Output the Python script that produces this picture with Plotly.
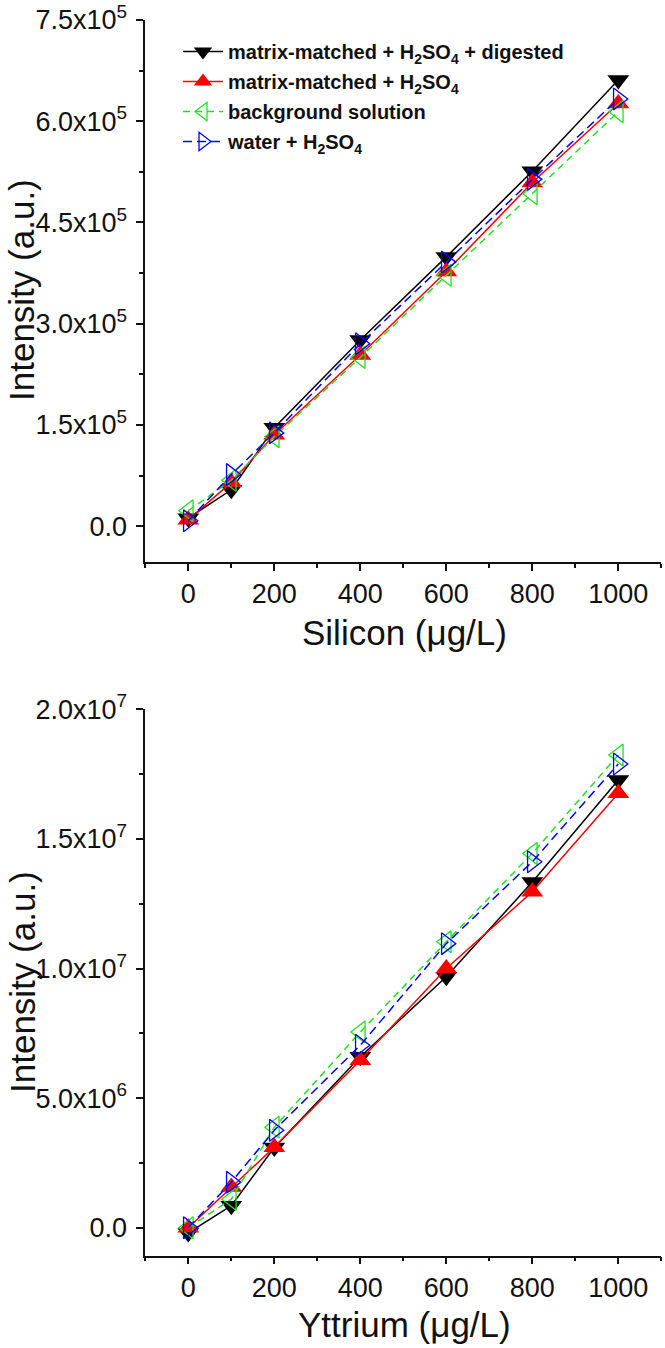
import plotly.graph_objects as go

# ---------------- data ----------------
conc = [0, 100, 200, 400, 600, 800, 1000]

si_digested = [12000, 54000, 146000, 276000, 399000, 526000, 661000]
si_matrix = [9600, 65000, 135600, 253600, 377300, 509300, 626300]
si_background = [23000, 68000, 132700, 250000, 371700, 492400, 614000]
si_water = [8000, 76500, 138300, 270500, 391300, 513900, 633100]

y_digested = [-0.2e6, 0.85e6, 3.1e6, 6.6e6, 9.68e6, 13.34e6, 17.27e6]
y_matrix = [0.0, 1.57e6, 3.11e6, 6.46e6, 10.0e6, 12.96e6, 16.76e6]
y_background = [0.0, 1.1e6, 3.88e6, 7.55e6, 11.03e6, 14.44e6, 18.24e6]
y_water = [0.0, 1.76e6, 3.76e6, 7.04e6, 10.96e6, 14.12e6, 17.89e6]

series_names = [
    "<b>matrix-matched + H<sub>2</sub>SO<sub>4</sub> + digested</b>",
    "<b>matrix-matched + H<sub>2</sub>SO<sub>4</sub></b>",
    "<b>background solution</b>",
    "<b>water + H<sub>2</sub>SO<sub>4</sub></b>",
]

x_ticks = [0, 200, 400, 600, 800, 1000]
x_minor = [-100, 100, 300, 500, 700, 900, 1100]
si_ticks = [0, 1.5e5, 3.0e5, 4.5e5, 6.0e5, 7.5e5]
si_ticktext = ["0.0", "1.5x10<sup>5</sup>", "3.0x10<sup>5</sup>", "4.5x10<sup>5</sup>",
               "6.0x10<sup>5</sup>", "7.5x10<sup>5</sup>"]
si_minor = [0.75e5, 2.25e5, 3.75e5, 5.25e5, 6.75e5]
y_ticks = [0, 5e6, 1e7, 1.5e7, 2e7]
y_ticktext = ["0.0", "5.0x10<sup>6</sup>", "1.0x10<sup>7</sup>", "1.5x10<sup>7</sup>",
              "2.0x10<sup>7</sup>"]
y_minor = [2.5e6, 7.5e6, 1.25e7, 1.75e7]

# ---------------- styles ----------------
FONT = "Arial, Liberation Sans, sans-serif"
W, H = 665, 1348
styles = [
    dict(color="#000000", symbol="triangle-down", dash="solid", fill=True),
    dict(color="#FF0000", symbol="triangle-up", dash="solid", fill=True),
    dict(color="#22E022", symbol="triangle-left-open", dash="7px,5px", fill=False),
    dict(color="#0000FF", symbol="triangle-right-open", dash="9px,5px", fill=False),
]

fig = go.Figure()

def add_series(xv, yv, st, name, xa, ya, showlegend):
    marker = dict(symbol=st["symbol"], size=19, color=st["color"])
    if not st["fill"]:
        marker["line"] = dict(color=st["color"], width=1.3)
    fig.add_trace(go.Scatter(
        x=xv, y=yv, mode="lines+markers", name=name,
        line=dict(color=st["color"], width=1.5, dash=st["dash"]),
        marker=marker, xaxis=xa, yaxis=ya, showlegend=showlegend,
        legendgroup=name,
    ))

top_sets = [si_digested, si_matrix, si_background, si_water]
bot_sets = [y_digested, y_matrix, y_background, y_water]
for st, name, ys in zip(styles, series_names, top_sets):
    add_series(conc, ys, st, name, "x", "y", True)
for st, name, ys in zip(styles, series_names, bot_sets):
    add_series(conc, ys, st, name, "x2", "y2", False)

def px_x(p):
    return p / W

def px_y(p):
    return 1 - p / H

axis_common = dict(
    showline=True, linecolor="#111111", linewidth=1.8, mirror=False,
    ticks="outside", ticklen=7, tickwidth=1.5, tickcolor="#111111",
    showgrid=False, zeroline=False, automargin=False, ticklabeloverflow="allow",
    tickfont=dict(family=FONT, size=27, color="#111111"),
)
x_dom = [px_x(145.3), px_x(661.3)]
xaxis_cfg = dict(axis_common, range=[-100, 1100], tickmode="array", tickvals=x_ticks,
                 ticktext=[str(v) for v in x_ticks],
                 minor=dict(tickvals=x_minor, ticks="outside", ticklen=4,
                            tickwidth=1.5, tickcolor="#111111"),
                 domain=x_dom, ticklabelstandoff=0)

fig.update_layout(
    width=W, height=H,
    margin=dict(l=0, r=0, t=0, b=0, pad=0),
    paper_bgcolor="white", plot_bgcolor="white",
    xaxis=dict(xaxis_cfg, anchor="y"),
    yaxis=dict(axis_common, range=[-5.3e4, 7.5e5], tickmode="array", tickvals=si_ticks,
               ticktext=si_ticktext,
               minor=dict(tickvals=si_minor, ticks="outside", ticklen=4,
                          tickwidth=1.5, tickcolor="#111111"),
               domain=[px_y(562.0), px_y(20.0)], anchor="x", ticklabelstandoff=4),
    xaxis2=dict(xaxis_cfg, anchor="y2"),
    yaxis2=dict(axis_common, range=[-1.07e6, 2.0e7], tickmode="array", tickvals=y_ticks,
                ticktext=y_ticktext,
                minor=dict(tickvals=y_minor, ticks="outside", ticklen=4,
                           tickwidth=1.5, tickcolor="#111111"),
                domain=[px_y(1255.5), px_y(709.3)], anchor="x2", ticklabelstandoff=4),
    legend=dict(x=px_x(178), y=px_y(32), xanchor="left", yanchor="top",
                bgcolor="rgba(0,0,0,0)", borderwidth=0, itemwidth=40,
                font=dict(family=FONT, size=20, color="#111111"),
                tracegroupgap=1, itemclick=False),
    showlegend=True,
)

title_font = dict(family=FONT, size=35, color="#111111")
annots = [
    dict(text="Intensity (a.u.)", x=px_x(22), y=px_y(290), textangle=-90, yanchor="middle"),
    dict(text="Silicon (μg/L)", x=px_x(404), y=px_y(632), textangle=0, yanchor="middle"),
    dict(text="Intensity (a.u.)", x=px_x(22), y=px_y(982), textangle=-90, yanchor="middle"),
    dict(text="Yttrium (μg/L)", x=px_x(404), y=px_y(1346), textangle=0, yanchor="bottom"),
]
for a in annots:
    fig.add_annotation(xref="paper", yref="paper", showarrow=False,
                       xanchor="center", font=title_font, **a)

fig.write_html(
    "out.html",
    config={"displayModeBar": False},
    post_script="document.body.style.margin='0';document.body.style.overflow='hidden';",
)
